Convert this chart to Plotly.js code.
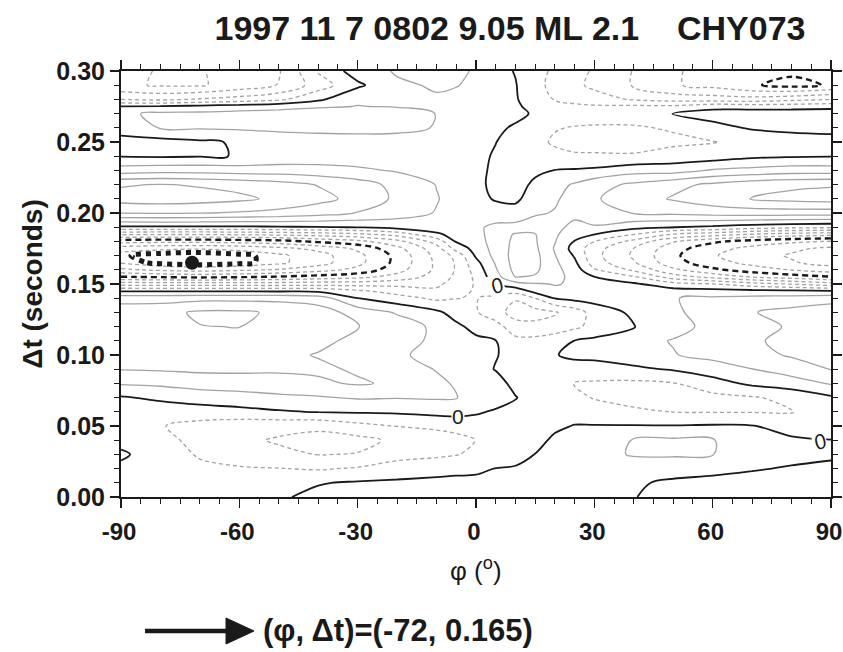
<!DOCTYPE html>
<html>
<head>
<meta charset="utf-8">
<script src="https://cdn.plot.ly/plotly-3.0.1.min.js"></script>
<style>html,body{margin:0;padding:0;background:#fff}#chart{width:843px;height:652px}</style>
</head>
<body>
<div id="chart"></div>
<script>
// grid axes
const phi = [-90,-80,-70,-60,-50,-40,-30,-20,-10,-5,0,5,10,15,20,25,30,40,50,60,70,80,90];
const dt = [0,0.01,0.02,0.03,0.04,0.05,0.06,0.07,0.08,0.09,0.10,0.11,0.12,0.13,0.14,0.145,0.15,0.155,0.16,0.165,0.17,0.175,0.18,0.185,0.19,0.20,0.21,0.22,0.23,0.24,0.25,0.26,0.27,0.275,0.28,0.29,0.30];
// estimated field values, one row per dt value, one column per phi value (contour interval = 1)
const zGrid = [
[-0.5,-0.6,-0.6,-0.5,-0.1,0.2,0.3,0.35,0.4,0.4,0.4,0.4,0.35,0.4,0.4,0.4,0.3,0.05,-0.5,-0.6,-0.7,-0.7,-0.6],
[-0.45,-0.6,-0.65,-0.6,-0.4,-0.05,0.1,0.15,0.2,0.2,0.2,0.25,0.3,0.4,0.45,0.5,0.5,0.15,-0.2,-0.3,-0.45,-0.5,-0.5],
[-0.2,-0.5,-0.8,-0.9,-0.97,-1.1,-0.9,-0.5,-0.3,-0.2,-0.15,0.02,0.1,0.3,0.5,0.6,0.7,0.7,0.5,0.3,0.1,-0.1,-0.2],
[0.15,-0.5,-1.1,-1.5,-1.8,-2.03,-1.95,-1.4,-1.2,-1.05,-0.8,-0.6,-0.4,0.02,0.45,0.6,0.8,1.05,1.1,1.02,0.6,0.35,0.15],
[-0.3,-0.7,-1.3,-1.8,-2.1,-2.4,-2.3,-1.8,-1.5,-1.35,-0.98,-0.75,-0.65,-0.35,0.2,0.4,0.6,1.05,1.15,1.05,0.6,0.15,0.02],
[-0.5,-0.95,-1.3,-1.6,-1.7,-1.75,-1.3,-0.97,-0.8,-0.6,-0.4,-0.5,-0.6,-0.5,-0.2,0.05,0.05,0.05,0.05,0.1,0.05,-0.4,-0.5],
[-0.4,-0.6,-0.5,-0.3,-0.1,0.05,0.1,0.15,0.3,0.3,0.1,-0.1,-0.3,-0.5,-0.5,-0.5,-0.6,-0.85,-1.02,-1.05,-1.05,-1.05,-0.6],
[-0.1,0.2,0.5,0.6,0.8,0.9,1.1,1.05,1.1,1.05,0.6,0.4,0.05,-0.45,-0.6,-0.8,-1.05,-1.3,-1.4,-1.3,-1.1,-0.7,-0.15],
[1.1,1.2,1.4,1.5,1.6,1.85,2.1,1.85,1.2,0.9,0.6,0.4,-0.3,-0.4,-0.5,-1.05,-1.1,-1.2,-1.05,-0.4,0.2,0.5,1.1],
[2.05,2.1,2.2,2.2,2.15,2.15,1.9,1.5,0.95,0.7,0.4,-0.05,-0.4,-0.3,-0.3,-0.4,-0.5,-0.2,0.1,0.5,0.98,1.5,2.05],
[2.3,2.4,2.5,2.4,2.2,1.95,1.6,1.1,0.8,0.6,0.3,0.05,-0.3,-0.2,-0.05,0.2,0.3,0.6,0.95,1.3,1.7,2.1,2.4],
[2.5,2.6,2.7,2.6,2.4,2.2,1.8,1.3,0.85,0.5,0.2,0.02,-0.7,-0.7,-0.4,0.02,0.2,0.7,1.05,1.5,1.9,2.2,2.5],
[2.75,2.85,2.97,3.02,2.8,2.6,2.05,1.5,0.8,0.2,-0.3,-0.6,-1.6,-1.7,-1.6,-1.2,-0.7,-0.05,0.7,1.25,1.7,2.1,2.6],
[2.6,2.7,3.15,3.15,2.85,2.5,1.6,0.9,0.2,-0.4,-0.9,-1.6,-2.4,-2.4,-2.1,-1.5,-0.6,0.2,0.8,1.5,1.95,2.3,2.6],
[1.6,1.6,1.7,1.7,1.7,1.5,0.02,-0.6,-1.2,-1.02,-0.95,-1.3,-1.9,-0.98,0.02,0.3,0.4,0.6,0.97,1.15,1.3,1.4,1.6],
[-0.05,-0.05,-0.05,-0.05,-0.1,-0.2,-0.8,-1.4,-1.8,-1.3,-0.9,-0.4,-0.6,0.3,0.8,0.8,0.6,0.5,0.4,0.4,0.3,0.2,0.1],
[-2.4,-2.5,-2.5,-2.5,-2.5,-2.4,-2.4,-2.3,-2.2,-1.6,-0.9,0.05,0.6,0.9,1.05,0.9,0.5,0.15,-0.6,-0.97,-1.6,-2.05,-2.6],
[-4.95,-5.1,-5.2,-5.1,-4.9,-4.6,-4.3,-3.6,-2.6,-1.8,-0.8,0.6,2.02,1.9,1.2,0.8,0.02,-0.9,-2.5,-3.3,-4.05,-4.5,-4.95],
[-6.8,-7.2,-7.4,-7.2,-6.9,-6.4,-5.7,-4.4,-2.8,-1.9,-0.6,0.9,2.3,2.2,1.3,0.5,-0.9,-2.2,-3.8,-4.8,-5.5,-6.05,-6.5],
[-8.1,-8.7,-8.95,-8.7,-8.2,-7.4,-6.3,-4.7,-2.8,-1.9,-0.3,1.1,2.4,2.3,1.2,0.2,-1.5,-2.9,-4.6,-5.6,-6.3,-6.9,-7.4],
[-8.4,-8.8,-8.95,-8.7,-8.2,-7.4,-6.3,-4.7,-2.7,-1.7,0.15,1.3,2.4,2.3,1.05,-0.1,-1.7,-3.15,-4.8,-5.9,-6.6,-7.1,-7.6],
[-7.6,-7.8,-7.9,-7.7,-7.3,-6.7,-5.8,-4.3,-2.4,-0.6,0.35,1.4,2.3,2.2,0.9,-0.4,-1.6,-3.02,-4.6,-5.6,-6.3,-6.8,-7.2],
[-5.6,-5.7,-5.7,-5.6,-5.4,-4.8,-4.3,-3.3,-1.6,0.1,0.5,1.5,2.2,2.1,1.05,-0.05,-0.97,-2.3,-3.9,-4.8,-5.4,-5.8,-6.05],
[-2.8,-2.9,-2.9,-2.8,-2.7,-2.5,-2.2,-1.6,-0.2,0.4,0.7,1.4,2.1,2.05,1.15,0.4,0.02,-0.97,-2.05,-2.5,-3.05,-3.4,-3.6],
[-0.2,-0.2,-0.2,-0.2,-0.1,-0.05,0.05,0.4,0.6,0.55,0.85,1.2,1.3,1.4,1.2,0.8,0.9,0.3,0.02,-0.2,-0.5,-0.7,-0.8],
[3.05,3.1,3.05,2.9,2.7,2.4,1.95,1.4,0.95,0.7,0.6,0.5,0.4,0.9,1.05,1.2,1.6,2.05,2.2,2.4,2.5,2.5,2.5],
[4.4,4.5,4.4,4.2,3.8,3.3,2.7,1.8,1.05,0.7,0.35,-0.1,-0.2,0.5,0.9,1.3,1.9,2.5,3.1,3.6,4.05,4.3,4.4],
[3.9,4.05,3.9,3.7,3.4,2.95,2.45,1.7,0.97,0.55,0.2,-0.2,-0.4,0.2,0.7,1.1,1.6,2.2,2.7,3.2,3.6,3.8,3.9],
[1.5,1.6,1.6,1.5,1.5,1.4,1.2,0.9,0.7,0.4,0.2,-0.15,-0.5,-0.2,0.02,0.1,0.2,0.6,0.6,1.1,1.3,1.5,1.5],
[-0.05,-0.1,-0.05,0.02,0.3,0.4,0.4,0.4,0.4,0.3,0.25,-0.1,-0.5,-0.6,-0.8,-0.9,-0.9,-0.9,-0.6,-0.5,-0.2,-0.1,-0.05],
[-0.4,-0.35,-0.15,0.1,0.5,0.6,0.6,0.6,0.5,0.35,0.3,0.02,-0.4,-0.8,-1.1,-1.25,-1.3,-1.35,-1.2,-1.05,-0.7,-0.6,-0.5],
[0.5,1.05,1.1,1.15,1.2,1.25,1.3,1.25,0.95,0.5,0.4,0.15,-0.1,-0.7,-0.95,-1.05,-1.1,-1.1,-0.9,-0.3,0.1,0.3,0.4],
[0.8,1.2,1.2,1.3,1.35,1.4,1.5,1.4,0.98,0.6,0.5,0.35,0.2,-0.1,-0.5,-0.6,-0.6,-0.55,0.05,0.4,0.5,0.55,0.55],
[0.02,0.1,0.3,0.5,0.7,0.9,1.02,0.95,0.95,0.65,0.55,0.4,0.15,-0.3,-0.7,-0.8,-0.85,-0.8,-0.8,-0.3,-0.4,-0.4,-0.3],
[-2.02,-2.2,-1.9,-1.6,-1.2,-0.2,0.9,0.9,0.9,0.7,0.6,0.4,0.1,-0.6,-1.05,-1.3,-1.6,-2.1,-2.4,-2.5,-2.6,-2.3,-2.02],
[-3.8,-4.1,-4.1,-3.6,-2.95,-1.5,-0.2,0.85,1.1,1.05,0.75,0.35,0.05,-0.7,-1.3,-1.8,-2.2,-3.1,-3.9,-4.3,-4.9,-5.3,-4.9],
[-3.8,-4.05,-4.05,-3.7,-3.1,-0.9,0.5,1.1,1.3,1.2,0.9,0.3,-0.05,-0.6,-1.2,-1.7,-2.1,-3.05,-3.9,-4.3,-4.6,-4.8,-4.7]
];
// best solution and zero-contour labels
const bestPhi = [-72];
const bestDt = [0.165];
const zeroLabelPhi = [5.3, -4.5, 87.2];
const zeroLabelDt = [0.149, 0.057, 0.039];
const zeroLabelTilt = [-25, 0, -25];
const zeroLabelText = ['<i>0</i>', '0', '<i>0</i>'];
const xTickVals = [-90, -60, -30, 0, 30, 60, 90];
const xTickText = ['-90', '-60', '-30', '0', '30', '60', '90'];
const yTickVals = [0, 0.05, 0.10, 0.15, 0.20, 0.25, 0.30];
const yTickText = ['0.00', '0.05', '0.10', '0.15', '0.20', '0.25', '0.30'];
const titleText = ['1997', '11', '7', '0802', '9.05', 'ML', '2.1'].join(' ') + ' \u00a0\u00a0\u00a0' + 'CHY073';

const FONT = '"Liberation Sans", Arial, Helvetica, sans-serif';
const INK = '#1a1a1a';

function contourTrace(start, end, color, width, dash) {
  return {
    type: 'contour', x: phi, y: dt, z: zGrid,
    autocontour: false,
    contours: {coloring: 'none', start: start, end: end, size: 1, showlabels: false},
    line: {color: color, width: width, dash: dash, smoothing: 1},
    showscale: false, hoverinfo: 'skip'
  };
}

const traces = [
  contourTrace(1, 8, '#a3a3a3', 1.3, 'solid'),
  contourTrace(-4, -1, '#a3a3a3', 1.3, '4px,3px'),
  contourTrace(-12, -6, '#a3a3a3', 1.3, '4px,3px'),
  contourTrace(-5, -4.9, INK, 2.4, '6px,4px'),
  contourTrace(0, 0.5, INK, 1.8, 'solid'),
  contourTrace(-8.5, -8.4, INK, 5, '5px,5px'),
  {type: 'scatter', mode: 'markers', x: bestPhi, y: bestDt,
   marker: {color: INK, size: 14}, hoverinfo: 'skip'}
];

const annotations = zeroLabelPhi.map((p, i) => ({
  x: p, y: zeroLabelDt[i], xref: 'x', yref: 'y', text: zeroLabelText[i],
  showarrow: false, textangle: zeroLabelTilt[i], bgcolor: '#ffffff', borderpad: 0,
  font: {family: FONT, size: 21, color: INK}
}));

const plotW = 710, plotH = 426;
const px = v => (v - 121) / plotW;
const py = v => (497 - v) / plotH;
// x-axis title
annotations.push({
  xref: 'paper', yref: 'paper', x: 0.5, y: py(569), xanchor: 'center', yanchor: 'middle',
  showarrow: false, text: 'φ (<sup>o</sup>)', font: {family: FONT, size: 26, color: INK}
});
// solution text below the plot
annotations.push({
  xref: 'paper', yref: 'paper', x: px(261), y: py(630),
  xanchor: 'left', yanchor: 'middle', showarrow: false,
  text: '<b>(φ, Δt)=(' + bestPhi[0] + ', ' + bestDt[0] + ')</b>',
  font: {family: FONT, size: 31, color: INK}
});

const shapes = [
  {type: 'line', xref: 'paper', yref: 'paper', x0: px(145), x1: px(236), y0: py(631), y1: py(631),
   line: {color: INK, width: 4.5}},
  {type: 'path', xref: 'paper', yref: 'paper',
   path: 'M ' + px(226) + ' ' + py(618) + ' L ' + px(254) + ' ' + py(631) + ' L ' + px(226) + ' ' + py(644) + ' Z',
   fillcolor: INK, line: {color: INK, width: 1}}
];

const layout = {
  width: 843, height: 652,
  margin: {l: 121, r: 12, t: 71, b: 155},
  paper_bgcolor: '#ffffff', plot_bgcolor: '#ffffff',
  showlegend: false,
  font: {family: FONT, color: INK},
  title: {text: '<b>' + titleText + '</b>', x: 0.605, xanchor: 'center', y: 0.957, yanchor: 'middle',
          font: {family: FONT, size: 34, color: INK}},
  xaxis: {
    range: [-90, 90], tickmode: 'array', tickvals: xTickVals, ticktext: xTickText,
    ticks: 'outside', ticklen: 9, tickwidth: 1.5, tickcolor: INK, ticklabelshift: -2, ticklabelstandoff: 3,
    showline: true, linewidth: 2, linecolor: INK, mirror: 'ticks', showgrid: false, zeroline: false,
    tickfont: {family: FONT, size: 24, color: INK, weight: 'bold'},
    minor: {tick0: 0, dtick: 5, ticks: 'outside', ticklen: 5, tickwidth: 1, tickcolor: INK, showgrid: false}
  },
  yaxis: {
    range: [0, 0.30], tickmode: 'array', tickvals: yTickVals, ticktext: yTickText,
    ticks: 'outside', ticklen: 9, tickwidth: 1.5, tickcolor: INK,
    showline: true, linewidth: 2, linecolor: INK, mirror: 'ticks', showgrid: false, zeroline: false,
    tickfont: {family: FONT, size: 25, color: INK, weight: 'bold'},
    minor: {tick0: 0, dtick: 0.01, ticks: 'outside', ticklen: 5, tickwidth: 1, tickcolor: INK, showgrid: false},
    title: {text: '<b>Δt (seconds)</b>', font: {family: FONT, size: 28, color: INK}, standoff: 6}
  },
  annotations: annotations,
  shapes: shapes
};

Plotly.newPlot('chart', traces, layout, {displayModeBar: false, staticPlot: true});
</script>
</body>
</html>
